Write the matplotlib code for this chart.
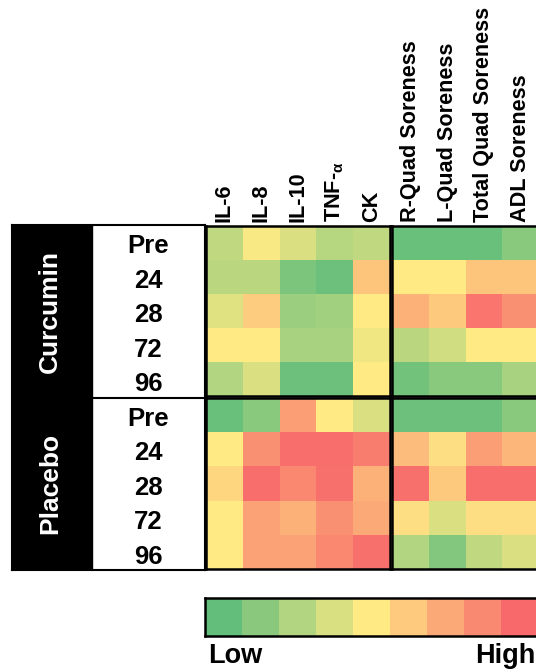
import numpy as np
from matplotlib import pyplot as plt
from matplotlib.colors import LinearSegmentedColormap
from matplotlib.patches import Rectangle

plt.rcParams['font.family'] = ['Liberation Sans', 'DejaVu Sans']
plt.rcParams['font.weight'] = 'bold'
plt.rcParams['mathtext.default'] = 'regular'

# data: 0 = low (green), 0.5 = middle (yellow), 1 = high (red)
groups = ['Curcumin', 'Placebo']
timepoints = ['Pre', '24', '28', '72', '96']
markers = ['IL-6', 'IL-8', 'IL-10', r'TNF-$_{\alpha}$', 'CK']
soreness = ['R-Quad Soreness', 'L-Quad Soreness', 'Total Quad Soreness', 'ADL Soreness']

curcumin_markers = [[0.30, 0.48, 0.38, 0.27, 0.30],
                    [0.28, 0.28, 0.08, 0.03, 0.65],
                    [0.40, 0.62, 0.18, 0.20, 0.50],
                    [0.50, 0.50, 0.22, 0.22, 0.45],
                    [0.25, 0.38, 0.03, 0.03, 0.50]]
curcumin_soreness = [[0.02, 0.02, 0.02, 0.12],
                     [0.50, 0.50, 0.65, 0.65],
                     [0.72, 0.63, 0.95, 0.85],
                     [0.28, 0.35, 0.50, 0.50],
                     [0.05, 0.12, 0.12, 0.22]]
placebo_markers = [[0.02, 0.12, 0.80, 0.50, 0.38],
                   [0.50, 0.85, 0.98, 0.98, 0.92],
                   [0.58, 0.98, 0.88, 0.97, 0.72],
                   [0.50, 0.78, 0.72, 0.85, 0.75],
                   [0.50, 0.78, 0.78, 0.88, 0.97]]
placebo_soreness = [[0.03, 0.03, 0.03, 0.12],
                    [0.68, 0.55, 0.80, 0.70],
                    [0.97, 0.63, 0.98, 0.98],
                    [0.55, 0.38, 0.55, 0.55],
                    [0.25, 0.10, 0.30, 0.38]]
scale_steps = [0, 1/8, 2/8, 3/8, 4/8, 5/8, 6/8, 7/8, 1]

cmap = LinearSegmentedColormap.from_list('gyr', ['#63BE7B', '#FFEB84', '#F8696B'])

W, H = 536, 669
fig = plt.figure(figsize=(W/100, H/100), dpi=100)


def box(x0, y0, x1, y1):
    # pixel box -> figure fraction
    return [x0/W, 1-y1/H, (x1-x0)/W, (y1-y0)/H]


def heat(rect, values, labels=None):
    ax = fig.add_axes(rect)
    ax.pcolormesh(np.array(values), cmap=cmap, vmin=0, vmax=1)
    ax.set_ylim(len(values), 0)
    ax.set_yticks([])
    if labels:
        ax.xaxis.tick_top()
        ax.set_xticks(np.arange(len(labels)) + 0.5)
        ax.set_xticklabels(labels, rotation=90, fontsize=15.6, fontweight='bold')
        ax.tick_params(axis='x', length=0, pad=3)
    else:
        ax.set_xticks([])
    for s in ax.spines.values():
        s.set_linewidth(1.8)
    return ax


heat(box(206, 226, 390, 396), curcumin_markers, markers)
heat(box(392, 226, 539, 396), curcumin_soreness, soreness)
heat(box(206, 398, 390, 569), placebo_markers)
heat(box(392, 398, 539, 569), placebo_soreness)

# group / timepoint label table
lab = fig.add_axes(box(12, 225, 205, 570))
lab.set_xlim(12, 205)
lab.set_ylim(10, 0)
lab.set_xticks([])
lab.set_yticks([])
for s in lab.spines.values():
    s.set_linewidth(1.5)
lab.add_patch(Rectangle((12, 0), 80, 10, color='black'))
lab.axhline(5, xmin=80/193, xmax=1, color='black', lw=1.5)
for g, name in enumerate(groups):
    lab.text(50, g*5 + 2.5, name, rotation=90, color='white', fontsize=19,
             fontweight='bold', ha='center', va='center')
    for i, t in enumerate(timepoints):
        lab.text(148, g*5 + i + 0.62, t, fontsize=18.5, fontweight='bold',
                 ha='center', va='center')

# Low -> High legend bar
cb = fig.add_axes(box(205, 598, 538, 636))
cb.pcolormesh(np.array([scale_steps]), cmap=cmap, vmin=0, vmax=1)
cb.set_xticks([])
cb.set_yticks([])
for s in cb.spines.values():
    s.set_linewidth(1.8)
fig.text(208/W, 1-663/H, 'Low', fontsize=19.5, fontweight='bold', ha='left', va='baseline')
fig.text(535/W, 1-663/H, 'High', fontsize=19.5, fontweight='bold', ha='right', va='baseline')

plt.savefig('out.png', dpi=100)
